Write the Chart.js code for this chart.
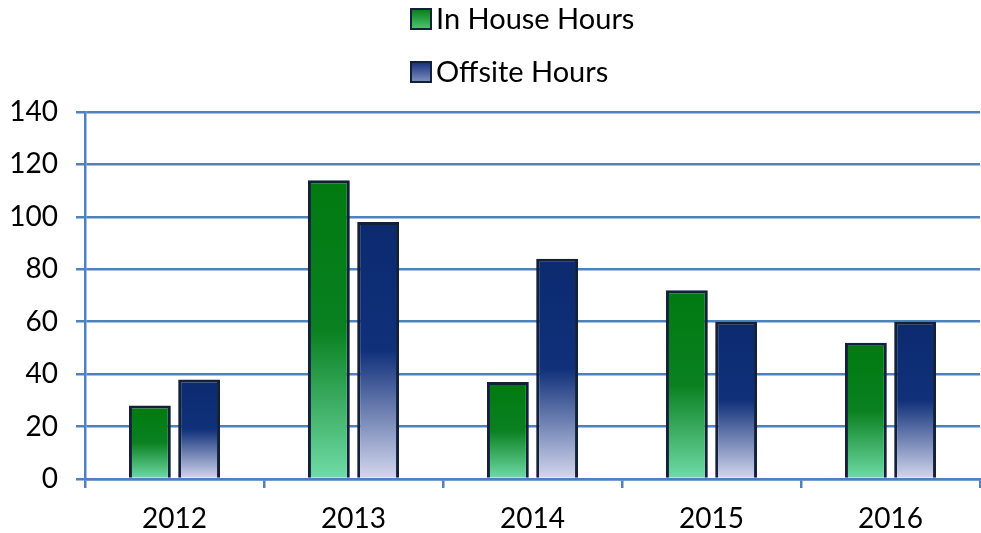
<!DOCTYPE html>
<html lang="en">
<head>
    <meta charset="UTF-8">
    <title>In House vs Offsite Hours</title>
    <script src="https://cdn.jsdelivr.net/npm/chart.js"></script>
    <style>
      html, body { margin: 0; padding: 0; background: #fff; }
      #wrap { width: 981px; height: 533px; }
    </style>
</head>
<body>
  <div id="wrap"><canvas id="myChart" width="981" height="533"></canvas></div>

  <script>
    const years = ['2012', '2013', '2014', '2015', '2016'];
    const inHouseHours = [28, 114, 37, 72, 52];
    const offsiteHours = [38, 98, 84, 60, 60];
    const yTicks = [0, 20, 40, 60, 80, 100, 120, 140];

    const blueLine = '#4f81bd';
    const edge = '#132039';
    const fontFam = 'Lato, "Open Sans", sans-serif';

    // each bar gets its own vertical gradient, dark on top, pale near the base
    function barFill(stops) {
      return function(ctx) {
        const chart = ctx.chart;
        if (!chart.chartArea || ctx.type !== 'data') return stops[0];
        const y = chart.scales.y;
        const top = y.getPixelForValue(ctx.raw);
        const base = y.getPixelForValue(0);
        const g = chart.ctx.createLinearGradient(0, top, 0, base);
        g.addColorStop(0, stops[0]);
        g.addColorStop(0.5, stops[1]);
        g.addColorStop(1, stops[2]);
        return g;
      };
    }
    const greenStops = ['#007a10', '#0a8020', '#70dca8'];
    const blueStops = ['#0b2a6f', '#10307a', '#d4d8ee'];

    // two stacked legend rows, left edges lined up
    const stackedLegend = {
      id: 'stackedLegend',
      afterDraw(chart) {
        const c = chart.ctx;
        const rows = [19, 72];
        c.save();
        c.font = '29px ' + fontFam;
        c.textBaseline = 'middle';
        chart.data.datasets.forEach((ds, i) => {
          const box = 20, x0 = 411;
          const y = rows[i];
          const g = c.createLinearGradient(0, y - box / 2, 0, y + box / 2);
          g.addColorStop(0, i === 0 ? '#0a7a1a' : '#15307a');
          g.addColorStop(1, i === 0 ? '#4cc870' : '#8090c0');
          c.fillStyle = g;
          c.fillRect(x0, y - box / 2, box, box);
          c.strokeStyle = edge;
          c.lineWidth = 2;
          c.strokeRect(x0, y - box / 2, box, box);
          c.fillStyle = '#000';
          c.fillText(ds.label, x0 + box + 5, y + 1);
        });
        c.restore();
      }
    };

    const ctx = document.getElementById('myChart').getContext('2d');
    const myChart = new Chart(ctx, {
      type: 'bar',
      data: {
        labels: years,
        datasets: [{
          label: 'In House Hours',
          data: inHouseHours,
          backgroundColor: barFill(greenStops),
          borderColor: edge,
          borderWidth: 3,
          categoryPercentage: 0.55,
          barPercentage: 0.85
        }, {
          label: 'Offsite Hours',
          data: offsiteHours,
          backgroundColor: barFill(blueStops),
          borderColor: edge,
          borderWidth: 3,
          categoryPercentage: 0.55,
          barPercentage: 0.85
        }]
      },
      options: {
        responsive: false,
        animation: false,
        layout: { padding: { top: 112, right: 1, left: 0, bottom: 0 } },
        plugins: {
          legend: { display: false },
          tooltip: { enabled: false }
        },
        scales: {
          x: {
            afterFit(axis) { axis.height = 54; },
            grid: {
              offset: true,
              drawOnChartArea: false,
              drawTicks: true,
              tickLength: 9,
              color: blueLine,
              lineWidth: 2.5
            },
            border: { color: blueLine, width: 2.5 },
            ticks: {
              color: '#000',
              padding: 14,
              font: { family: fontFam, size: 28 }
            }
          },
          y: {
            min: 0,
            max: 140,
            afterFit(axis) { axis.width = 85; },
            afterBuildTicks(axis) {
              axis.ticks = yTicks.map(v => ({ value: v }));
            },
            grid: {
              color: blueLine,
              lineWidth: 2.5,
              tickLength: 9
            },
            border: { color: blueLine, width: 2.5 },
            ticks: {
              color: '#000',
              padding: 18,
              font: { family: fontFam, size: 28 }
            }
          }
        }
      },
      plugins: [stackedLegend]
    });
  </script>
</body>
</html>
